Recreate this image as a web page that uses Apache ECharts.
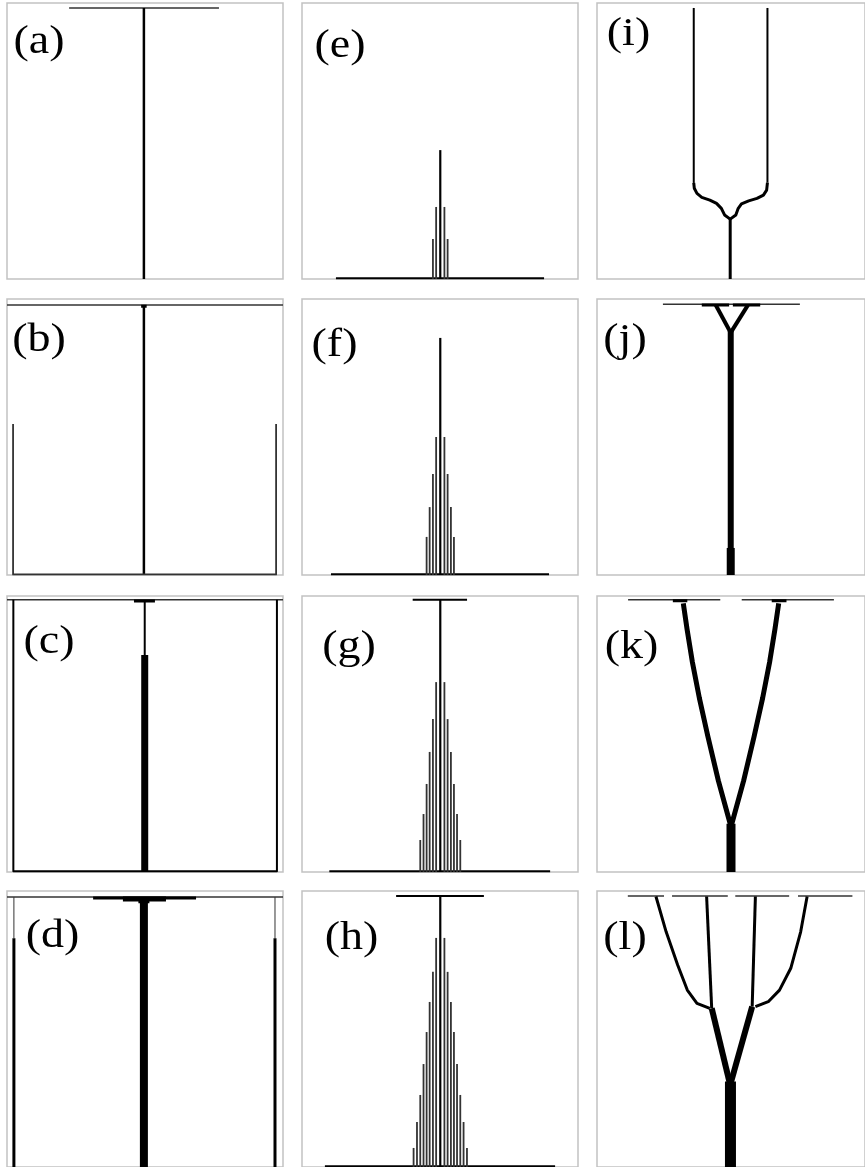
<!DOCTYPE html>
<html>
<head>
<meta charset="utf-8">
<script src="https://cdn.jsdelivr.net/npm/echarts@6/dist/echarts.min.js"></script>
<style>
  html, body { margin: 0; padding: 0; background: #fff; }
  #chart { width: 865px; height: 1167px; }
</style>
</head>
<body>
<div id="chart"></div>
<script>
// Network states on a unit square (0..100 in both directions, y up).
// Each stroke: [weight, [[x, y], ...]] -- weight is the conducting strength of the edge.

const panelLetters = ['a', 'b', 'c', 'd', 'e', 'f', 'g', 'h', 'i', 'j', 'k', 'l'];

// (a)-(d): single trunk with growing rim structure
const treeA = [
  [1.5, [[22.5, 98.2], [76.8, 98.2]]],
  [2.5, [[49.6, 98.2], [49.6, 0]]]
];
const treeB = [
  [1.5, [[0, 97.8], [100, 97.8]]],
  [2.5, [[49.6, 97.8], [49.6, 0]]],
  [3, [[48.6, 97.4], [50.6, 97.4]]],
  [1.8, [[2.2, 54.7], [2.2, 0.2], [97.5, 0.2], [97.5, 54.7]]]
];
const treeC = [
  [1.5, [[0, 98.6], [100, 98.6]]],
  [2, [[2.3, 98.6], [2.3, 0.3], [97.8, 0.3], [97.8, 98.6]]],
  [3, [[46, 98.2], [53.6, 98.2]]],
  [2, [[49.9, 98.2], [49.9, 78.6]]],
  [7, [[49.9, 78.6], [49.9, 0]]]
];
const treeD = [
  [1.5, [[0, 97.8], [100, 97.8]]],
  [3, [[31.2, 97.5], [68.5, 97.5]]],
  [5, [[42, 97.1], [57.6, 97.1]]],
  [11, [[49.6, 97.1], [49.6, 95.6]]],
  [8, [[49.6, 97], [49.6, 0]]],
  [1, [[2.5, 97.8], [2.5, 82.9]]],
  [3, [[2.5, 82.9], [2.5, 0]]],
  [1, [[97.1, 97.8], [97.1, 82.9]]],
  [3, [[97.1, 82.9], [97.1, 0]]]
];

// (i)-(l): branching trees
const treeI = [
  [2, [[36.1, 98.2], [36.1, 34.8]]],
  [3, [[36.1, 34.8], [36.3, 32.9], [37.3, 31.0], [39.1, 29.6], [42.1, 28.6], [44.6, 27.4], [46.4, 25.6], [47.6, 23.2], [49.7, 21.7]]],
  [2, [[63.6, 98.2], [63.6, 34.9]]],
  [3, [[63.6, 34.9], [63.3, 32.2], [62.1, 30.4], [59.7, 29.2], [56.6, 28.3], [53.9, 27.2], [52.7, 25.6], [51.8, 23.2], [49.7, 21.7]]],
  [3, [[49.7, 21.7], [49.7, 0]]]
];
const treeJ = [
  [1.5, [[24.6, 98.1], [75.7, 98.1]]],
  [3, [[39.1, 97.8], [49.3, 97.8]]],
  [3, [[50.7, 97.8], [60.9, 97.8]]],
  [4, [[44.3, 97.8], [49.9, 87.8]]],
  [4, [[56.3, 97.8], [49.9, 87.8]]],
  [6, [[49.9, 88.5], [49.9, 9.8]]],
  [8, [[49.9, 9.8], [49.9, 0]]]
];
const treeK = [
  [1.5, [[11.6, 98.6], [46, 98.6]]],
  [1.5, [[54, 98.6], [88.4, 98.6]]],
  [3, [[28.3, 98.3], [33.7, 98.3]]],
  [3, [[65.2, 98.3], [70.7, 98.3]]],
  [5, [[32.2, 97.3], [33.6, 88], [35.6, 76], [38.2, 63], [41.4, 49], [45.3, 33], [50, 16.4]]],
  [5, [[67.8, 97.3], [66.4, 88], [64.4, 76], [61.8, 63], [58.6, 49], [54.7, 33], [50, 16.4]]],
  [9, [[50, 17.5], [50, 0]]]
];
const treeL = [
  [1.5, [[11.5, 98.2], [25, 98.2]]],
  [1.5, [[28, 98.2], [48.8, 98.2]]],
  [1.5, [[51.6, 98.2], [71.7, 98.2]]],
  [1.5, [[75, 98.2], [95.3, 98.2]]],
  [3, [[22, 98], [25.8, 85.2], [30.1, 73.2], [33.7, 64.1], [37.3, 59.3], [42.1, 57.5]]],
  [3, [[40.9, 98], [42.8, 57.5]]],
  [6, [[42.8, 57.5], [49.7, 29.7]]],
  [3, [[78.4, 98], [76, 85.2], [72.3, 72], [68.1, 64.1], [63.9, 59.9], [59.1, 58.1]]],
  [3, [[59.1, 98], [57.9, 58.1]]],
  [6, [[57.9, 58.1], [49.7, 29.7]]],
  [11, [[49.8, 31], [49.8, 0]]]
];

// (e)-(h): comb of vertical edges around the centre, heights per ring (centre first)
const combCentre = 50.1;
const combOffsets = [0, 1.5, 2.66, 3.85, 4.95, 6.07, 7.25, 8.44, 9.67];
const combHeightsE = [46.7, 26.1, 14.5];
const combHeightsF = [85.9, 50, 36.6, 24.6, 13.8];
const combHeightsG = [98.6, 68.8, 55.4, 43.5, 31.9, 21, 11.6];
const combHeightsH = [98.2, 83, 70.7, 59.8, 48.9, 37.3, 26.1, 16.3, 6.9];
const combBaseE = [12.3, 87.7];
const combBaseF = [10.5, 89.5];
const combBaseG = [9.9, 89.9];
const combBaseH = [8.3, 91.7];
const combCapG = [40.1, 59.8, 98.6];
const combCapH = [34.1, 65.9, 98.2];

function combStrokes(heights, base, cap) {
  const out = [[2, [[base[0], 0.3], [base[1], 0.3]]]];
  if (cap) out.push([2, [[cap[0], cap[2]], [cap[1], cap[2]]]]);
  heights.forEach((h, k) => {
    if (k === 0) {
      out.push([2.2, [[combCentre, 0], [combCentre, h]]]);
    } else {
      out.push([1.8, [[combCentre - combOffsets[k], 0], [combCentre - combOffsets[k], h]]]);
      out.push([1.8, [[combCentre + combOffsets[k], 0], [combCentre + combOffsets[k], h]]]);
    }
  });
  return out;
}

const strokesByPanel = {
  a: treeA, b: treeB, c: treeC, d: treeD,
  e: combStrokes(combHeightsE, combBaseE, null),
  f: combStrokes(combHeightsF, combBaseF, null),
  g: combStrokes(combHeightsG, combBaseG, combCapG),
  h: combStrokes(combHeightsH, combBaseH, combCapH),
  i: treeI, j: treeJ, k: treeK, l: treeL
};

// label centres, in page pixels
const labelCentres = {
  a: [39, 42.5], b: [39, 340], c: [49, 642.5], d: [52.5, 936],
  e: [340, 46], f: [334.5, 345], g: [349, 647.5], h: [351.5, 938.5],
  i: [628.5, 34], j: [625, 340], k: [631.5, 647.5], l: [625, 938.5]
};

// layout
const colLeft = [7, 302, 597];
const rowTop = [3, 299, 596, 891];
const panelSize = 276;

const grids = [], xAxes = [], yAxes = [], series = [], graphics = [];
panelLetters.forEach((p, i) => {
  const col = Math.floor(i / 4), row = i % 4;
  grids.push({
    left: colLeft[col], top: rowTop[row], width: panelSize, height: panelSize,
    show: true, borderColor: '#c2c2c2', borderWidth: 1.5, backgroundColor: 'transparent'
  });
  xAxes.push({ type: 'value', gridIndex: i, min: 0, max: 100, show: false });
  yAxes.push({ type: 'value', gridIndex: i, min: 0, max: 100, show: false });
  strokesByPanel[p].forEach(([w, pts]) => {
    series.push({
      type: 'line', xAxisIndex: i, yAxisIndex: i, data: pts,
      showSymbol: false, symbol: 'none', clip: false, silent: true, animation: false,
      lineStyle: { width: w, color: w < 2 ? '#333' : '#000', cap: 'butt', join: 'round' }
    });
  });
  const c = labelCentres[p];
  graphics.push({
    type: 'text', x: c[0], y: c[1], scaleX: 1.15,
    style: {
      text: '(' + p + ')', fontSize: 40, fontFamily: 'Liberation Serif',
      fill: '#000', textAlign: 'center', textVerticalAlign: 'middle'
    }
  });
});

const chart = echarts.init(document.getElementById('chart'), null, { renderer: 'canvas' });
chart.setOption({
  animation: false,
  backgroundColor: '#fff',
  grid: grids, xAxis: xAxes, yAxis: yAxes, series: series, graphic: graphics
});
</script>
</body>
</html>
